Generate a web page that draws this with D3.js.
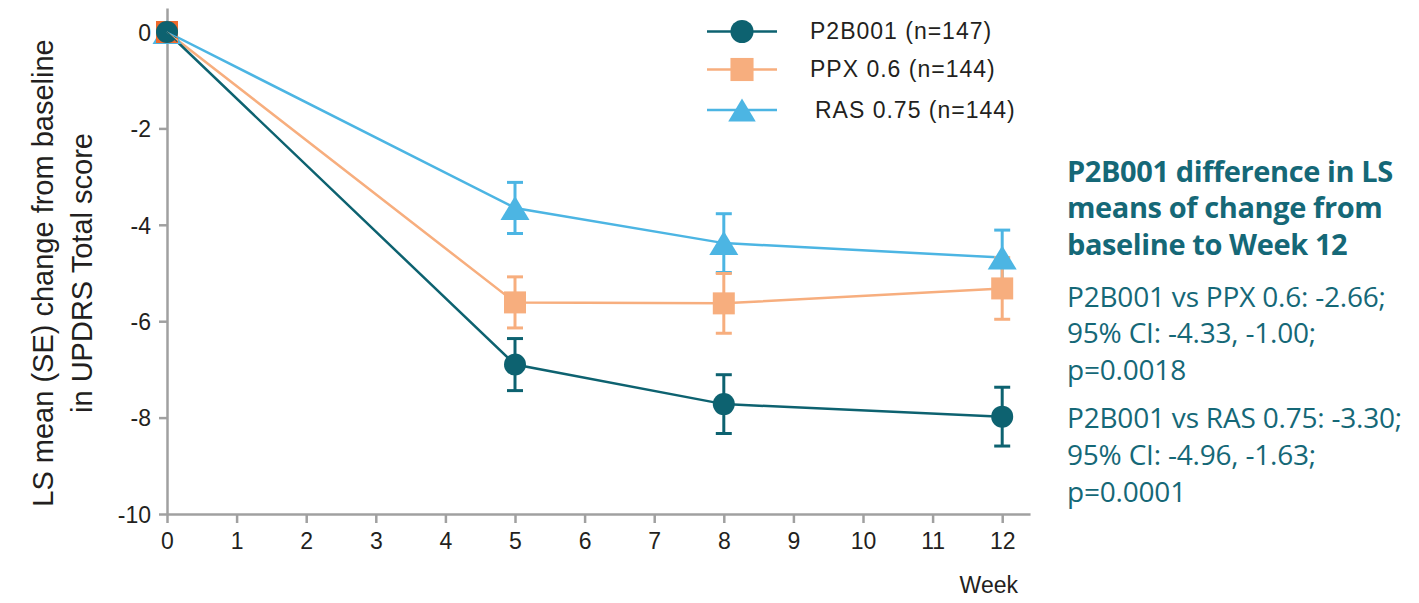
<!DOCTYPE html>
<html>
<head>
<meta charset="utf-8">
<script src="https://cdn.jsdelivr.net/npm/d3@7"></script>
<style>
  html, body { margin: 0; padding: 0; background: #ffffff; }
  svg { display: block; }
</style>
</head>
<body>
<svg id="chart" width="1419" height="603"></svg>
<script>
// ---- Data ----
const weeks = [0, 5, 8, 12];
const seriesNames = ["P2B001 (n=147)", "PPX 0.6 (n=144)", "RAS 0.75 (n=144)"];
const p2b001Mean = [0, -6.90, -7.72, -7.98];
const p2b001SE   = [0, 0.54, 0.61, 0.61];
const ppxMean    = [0, -5.61, -5.63, -5.32];
const ppxSE      = [0, 0.53, 0.62, 0.64];
const rasMean    = [0, -3.65, -4.38, -4.68];
const rasSE      = [0, 0.53, 0.61, 0.57];
const xTicks = [0, 1, 2, 3, 4, 5, 6, 7, 8, 9, 10, 11, 12];
const yTicks = [0, -2, -4, -6, -8, -10];
const yTitleLines = ["LS mean (SE) change from baseline", "in UPDRS Total score"];
const xTitle = "Week";
const noteTitle = ["P2B001 difference in LS", "means of change from", "baseline to Week 12"];
const noteBody1 = ["P2B001 vs PPX 0.6: -2.66;", "95% CI: -4.33, -1.00;", "p=0.0018"];
const noteBody2 = ["P2B001 vs RAS 0.75: -3.30;", "95% CI: -4.96, -1.63;", "p=0.0001"];

const colors = { p2b: "#0d6270", ppx: "#f7ae7e", ras: "#4cb5e3" };
const series = [
  { key: "ras", name: seriesNames[2], mean: rasMean, se: rasSE, color: colors.ras, shape: "triangle" },
  { key: "ppx", name: seriesNames[1], mean: ppxMean, se: ppxSE, color: colors.ppx, shape: "square" },
  { key: "p2b", name: seriesNames[0], mean: p2b001Mean, se: p2b001SE, color: colors.p2b, shape: "circle" }
];

const svg = d3.select("#chart");
const axisColor = "#a0a0a0";
const axisFont = "'Liberation Sans', Arial, sans-serif";

const x = d3.scaleLinear().domain([0, 12.4]).range([167, 167 + 12.4 * 69.6]);
const y = d3.scaleLinear().domain([-10, 0.5]).range([514, 514 - 10.5 * 48.2]);

// Axes
const fmt = d => String(d);
const xAxis = d3.axisBottom(x).tickValues(xTicks).tickFormat(fmt).tickSize(9).tickPadding(10).tickSizeOuter(0);
const yAxis = d3.axisLeft(y).tickValues(yTicks).tickFormat(fmt).tickSize(8).tickPadding(8).tickSizeOuter(0);

const gx = svg.append("g").attr("transform", `translate(0,${y(-10)})`).call(xAxis);
const gy = svg.append("g").attr("transform", `translate(${x(0)},0)`).call(yAxis);
[gx, gy].forEach(g => {
  g.selectAll("path, line").attr("stroke", axisColor).attr("stroke-width", 2.5);
  g.selectAll("text").attr("fill", "#231f20").style("font-family", axisFont).style("font-size", "23px");
});
gx.selectAll("text").attr("dy", "0.71em");
gy.selectAll("text").attr("dy", "0.36em");

// Axis titles
const yt = svg.append("text")
  .attr("transform", `translate(53,273) rotate(-90)`)
  .attr("text-anchor", "middle")
  .style("font-family", axisFont).style("font-size", "29px").attr("fill", "#231f20");
yt.selectAll("tspan").data(yTitleLines).join("tspan")
  .attr("x", 0).attr("y", (d, i) => i * 39).text(d => d);

svg.append("text").attr("x", 1018).attr("y", 593).attr("text-anchor", "end")
  .style("font-family", axisFont).style("font-size", "23px").attr("fill", "#231f20").text(xTitle);

// Markers
function drawMarker(g, shape, cx, cy, color, s) {
  if (shape === "circle") {
    g.append("circle").attr("cx", cx).attr("cy", cy).attr("r", 11 * s).attr("fill", color);
  } else if (shape === "square") {
    const h = 11 * s;
    g.append("rect").attr("x", cx - h).attr("y", cy - h).attr("width", 2 * h).attr("height", 2 * h).attr("fill", color);
  } else {
    const w = 14.5 * s, ht = 24 * s;
    g.append("path").attr("d", `M${cx},${cy - ht / 2} L${cx + w},${cy + ht / 2} L${cx - w},${cy + ht / 2} Z`).attr("fill", color);
  }
}

const line = d3.line().x(d => x(d.w)).y(d => y(d.m));
const plot = svg.append("g");

// lines
series.forEach(s => {
  const pts = weeks.map((w, i) => ({ w, m: s.mean[i], se: s.se[i] }));
  plot.append("path").datum(pts).attr("d", line).attr("fill", "none")
    .attr("stroke", s.color).attr("stroke-width", 2.5);
});
// error bars
series.forEach(s => {
  const g = plot.append("g");
  weeks.forEach((w, i) => {
    const m = s.mean[i], se = s.se[i];
    if (se > 0) {
      const cx = x(w);
      g.append("line").attr("x1", cx).attr("x2", cx).attr("y1", y(m + se)).attr("y2", y(m - se))
        .attr("stroke", s.color).attr("stroke-width", 3);
      [m + se, m - se].forEach(v => {
        g.append("line").attr("x1", cx - 8).attr("x2", cx + 8).attr("y1", y(v)).attr("y2", y(v))
          .attr("stroke", s.color).attr("stroke-width", 3);
      });
    }
  });
});
// markers
series.forEach(s => {
  const g = plot.append("g");
  weeks.forEach((w, i) => {
    const c = (s.key === "ppx" && w === 0) ? "#ef6a2c" : s.color;
    drawMarker(g, s.shape, x(w), y(s.mean[i]), c, 1);
  });
});
// thin line starts drawn over the baseline markers
series.forEach(s => {
  const pts = weeks.slice(0, 2).map((w, i) => ({ w, m: s.mean[i] }));
  plot.append("path").datum(pts).attr("d", line).attr("fill", "none")
    .attr("stroke", s.color).attr("stroke-width", 1.2)
    .attr("stroke-dasharray", "14 1000");
});

// Legend
const legendOrder = [series[2], series[1], series[0]];
const legendY = [31.5, 69.5, 110];
const legendTextX = [810, 810, 815];
const lg = svg.append("g");
legendOrder.forEach((s, i) => {
  const cy = legendY[i];
  lg.append("line").attr("x1", 707).attr("x2", 777).attr("y1", cy).attr("y2", cy)
    .attr("stroke", s.color).attr("stroke-width", 2.5);
  drawMarker(lg, s.shape, 742, cy, s.color, s.shape === "triangle" ? 0.95 : 1.05);
  lg.append("text").attr("x", legendTextX[i]).attr("y", cy + 7.5)
    .style("font-family", axisFont).style("font-size", "23px").style("letter-spacing", "1px")
    .attr("fill", "#231f20").text(s.name);
});

// Annotation
const noteColor = "#156877";
const noteFont = "'Open Sans', 'Noto Sans', sans-serif";
const ng = svg.append("g");
noteTitle.forEach((t, i) => {
  ng.append("text").attr("x", 1067).attr("y", 181.5 + i * 36.7)
    .style("font-family", noteFont).style("font-weight", "bold").style("font-size", "29px")
    .style("letter-spacing", "-0.4px")
    .attr("fill", noteColor).text(t);
});
noteBody1.concat(noteBody2).forEach((t, i) => {
  const yy = i < 3 ? 306.7 + i * 36.5 : 428.3 + (i - 3) * 36.6;
  ng.append("text").attr("x", 1067).attr("y", yy)
    .style("font-family", noteFont).style("font-size", "28px")
    .style("letter-spacing", "-0.2px")
    .attr("fill", noteColor).text(t);
});
</script>
</body>
</html>
